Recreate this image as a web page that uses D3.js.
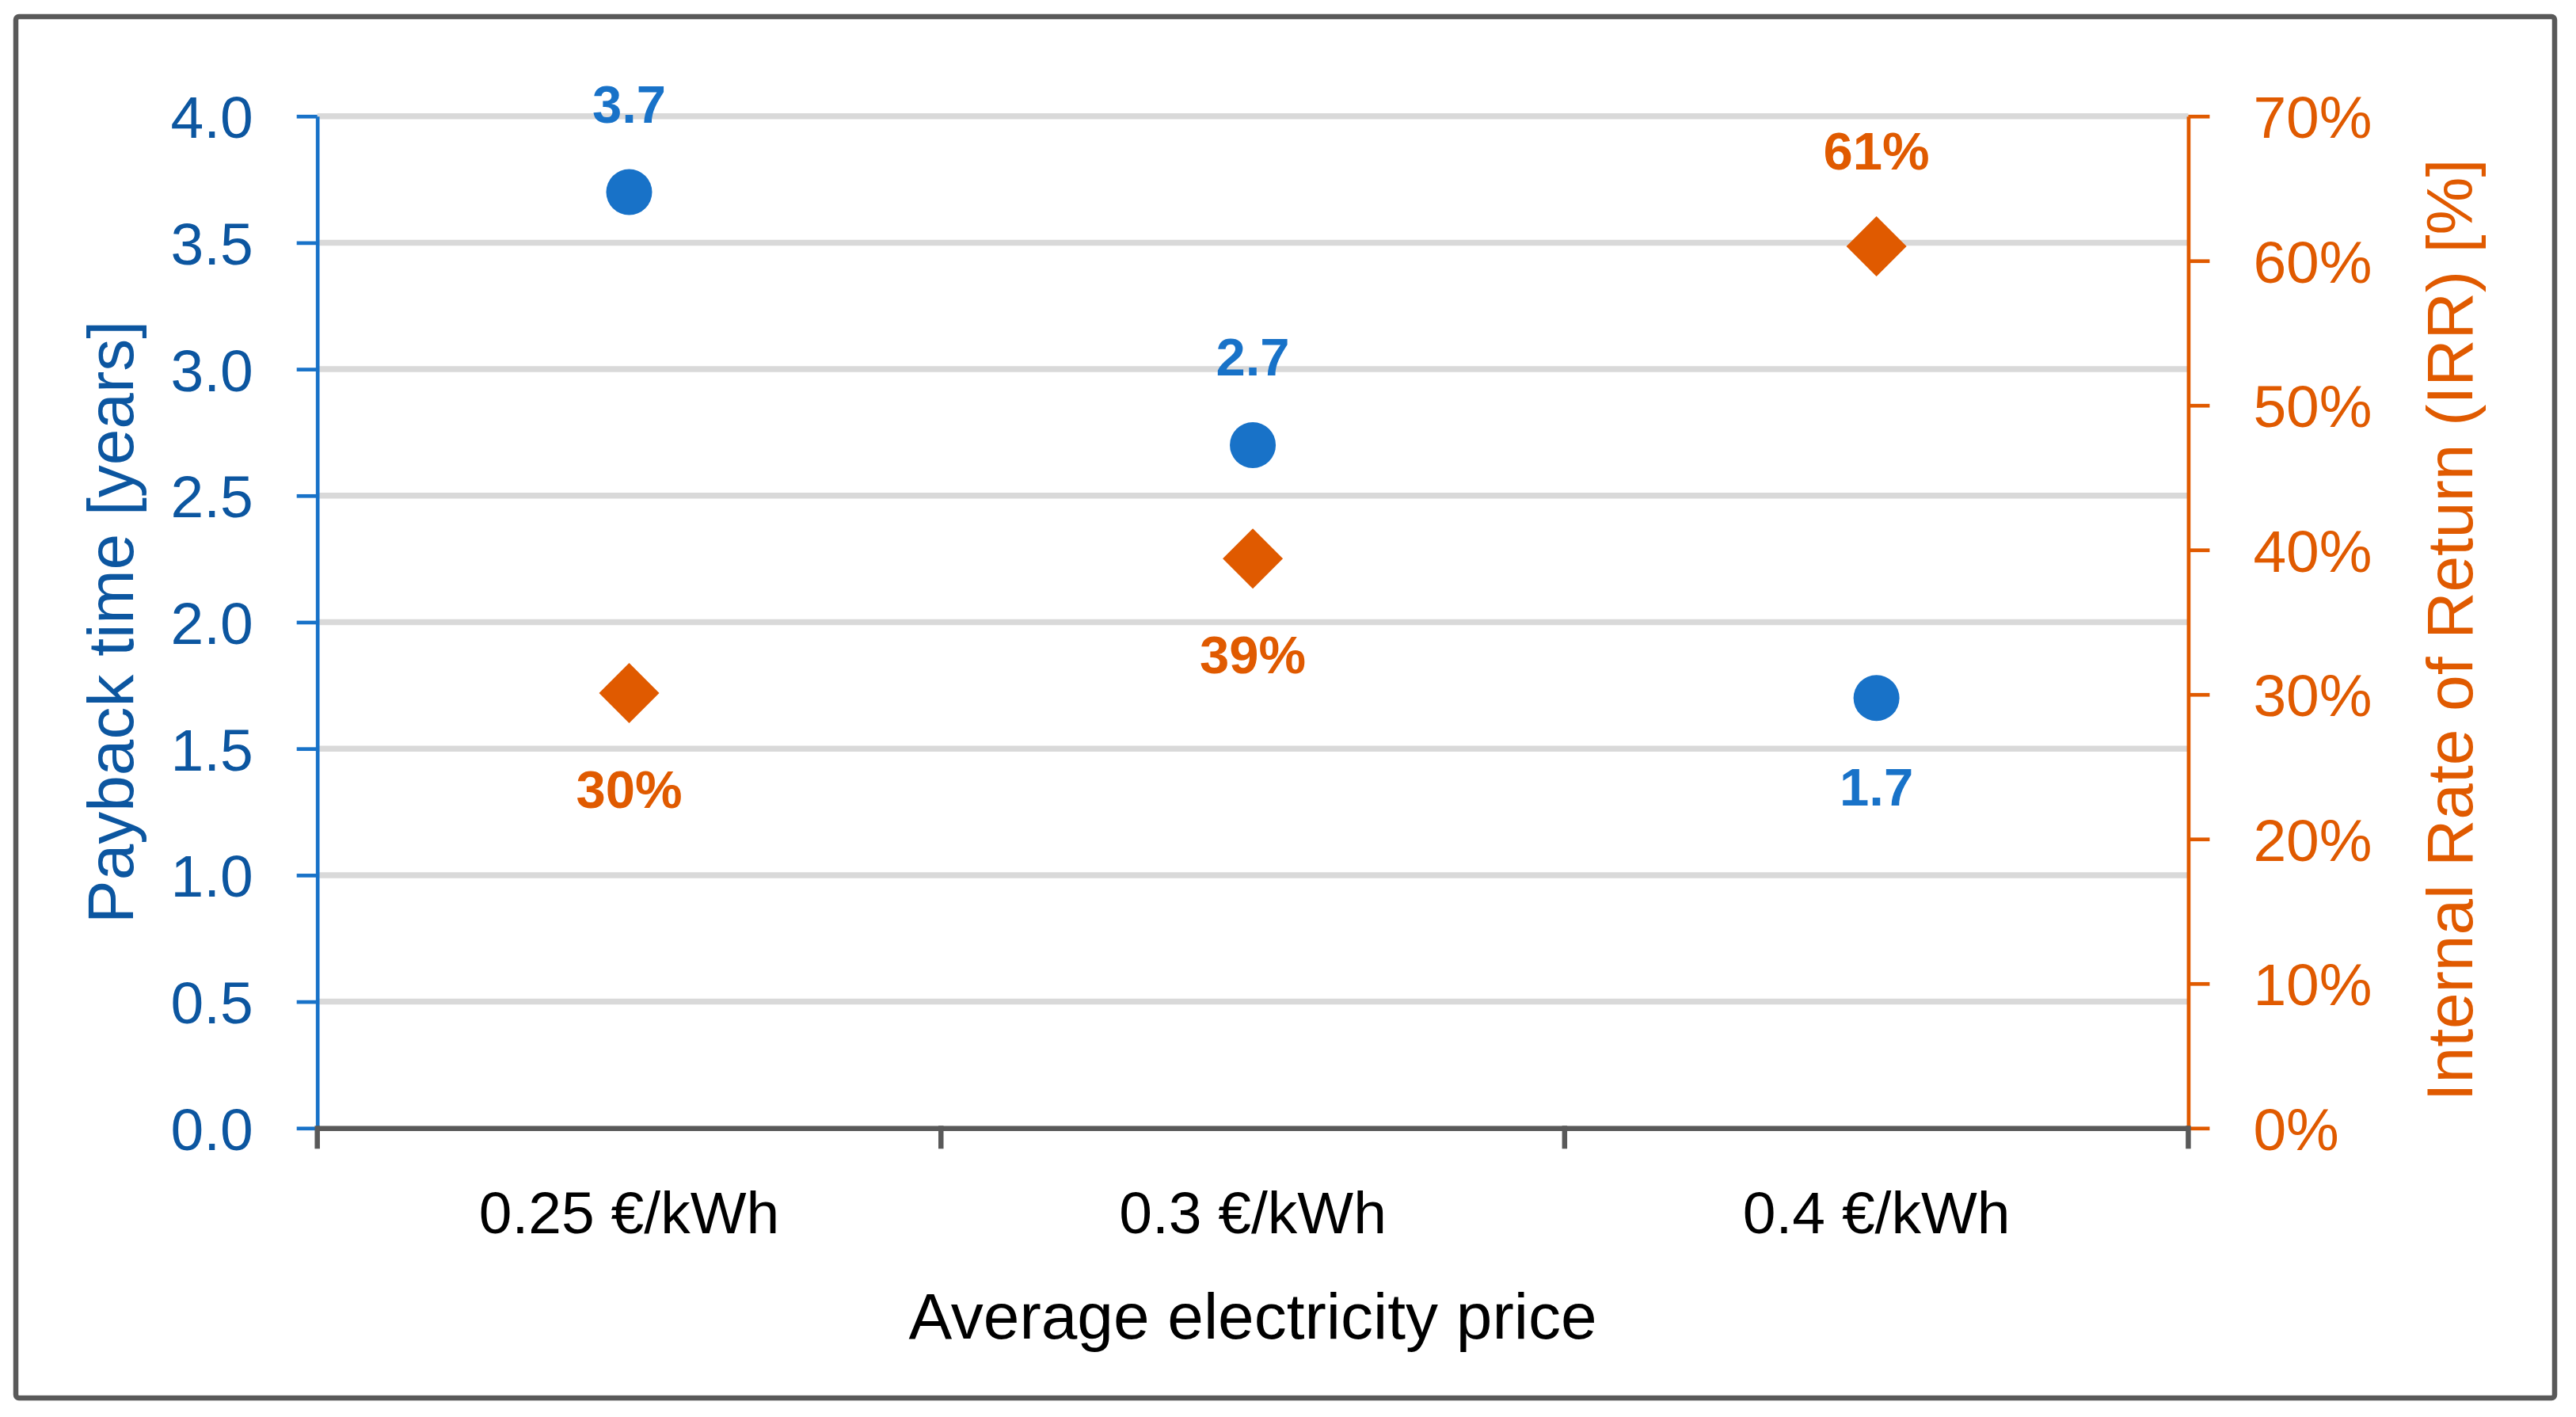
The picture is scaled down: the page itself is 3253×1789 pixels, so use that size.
<!DOCTYPE html>
<html>
<head>
<meta charset="utf-8">
<script src="https://cdn.jsdelivr.net/npm/d3@7/dist/d3.min.js"></script>
<style>
  body { margin: 0; background: #fff; }
  svg text { font-family: "Liberation Sans", Arial, sans-serif; }
</style>
</head>
<body>
<div id="chart"></div>
<script>
// data
var categories = ["0.25 €/kWh", "0.3 €/kWh", "0.4 €/kWh"];
var paybackYears = [3.7, 2.7, 1.7];      // left axis
var irrValues = [0.301, 0.394, 0.610];    // right axis
var leftTicks = [0, 0.5, 1, 1.5, 2, 2.5, 3, 3.5, 4];
var rightTicks = [0, 0.1, 0.2, 0.3, 0.4, 0.5, 0.6, 0.7];

var svgWidth = 3253, svgHeight = 1789;
var margin = { top: 146.7, right: 489.6, bottom: 364.7, left: 400.7 };
var width = svgWidth - margin.left - margin.right;
var height = svgHeight - margin.top - margin.bottom;

var blue = "#1872c8", blueDark = "#0c56a0", orange = "#e05a00", grey = "#595959";

var svg = d3.select("#chart").append("svg")
    .attr("width", svgWidth)
    .attr("height", svgHeight);

// outer frame
svg.append("rect")
    .attr("x", 20).attr("y", 21)
    .attr("width", 3206).attr("height", 1744)
    .attr("rx", 4)
    .attr("fill", "none")
    .attr("stroke", grey)
    .attr("stroke-width", 6.5);

var g = svg.append("g")
    .attr("transform", "translate(" + margin.left + "," + margin.top + ")");

var x = d3.scaleBand().domain(categories).range([0, width]).padding(0);
var yL = d3.scaleLinear().domain([0, 4]).range([height, 0]);
var yR = d3.scaleLinear().domain([0, 0.7]).range([height, 0]);

// gridlines
g.append("g").selectAll("line")
    .data(leftTicks.filter(function(d) { return d > 0; }))
    .enter().append("line")
    .attr("x1", 0).attr("x2", width)
    .attr("y1", function(d) { return yL(d); })
    .attr("y2", function(d) { return yL(d); })
    .attr("stroke", "#d9d9d9")
    .attr("stroke-width", 7.5);

// left axis
var axL = g.append("g")
    .call(d3.axisLeft(yL).tickValues(leftTicks).tickFormat(d3.format(".1f"))
        .tickSize(26).tickSizeOuter(0).tickPadding(55));
axL.select(".domain").attr("stroke", blue).attr("stroke-width", 4.7);
axL.selectAll(".tick line").attr("stroke", blue).attr("stroke-width", 4.7);
axL.selectAll(".tick text").attr("fill", blueDark).attr("font-size", 75).attr("dy", "0.36em");

// right axis
var axR = g.append("g")
    .attr("transform", "translate(" + width + ",0)")
    .call(d3.axisRight(yR).tickValues(rightTicks).tickFormat(d3.format(".0%"))
        .tickSize(27).tickSizeOuter(0).tickPadding(55));
axR.select(".domain").attr("stroke", orange).attr("stroke-width", 4.7);
axR.selectAll(".tick line").attr("stroke", orange).attr("stroke-width", 4.7);
axR.selectAll(".tick text").attr("fill", orange).attr("font-size", 75).attr("dy", "0.36em");

// bottom axis: labels at band centres, ticks at band edges
var axB = g.append("g")
    .attr("transform", "translate(0," + height + ")")
    .call(d3.axisBottom(x).tickSize(0).tickSizeOuter(0));
axB.select(".domain").attr("stroke", grey).attr("stroke-width", 6.5);
axB.selectAll(".tick text")
    .attr("fill", "#000")
    .attr("font-size", 75)
    .attr("y", 132.7)
    .attr("dy", 0);

var edges = categories.map(function(c) { return x(c); }).concat([width]);
axB.selectAll(".edge")
    .data(edges)
    .enter().append("line")
    .attr("class", "edge")
    .attr("x1", function(d) { return d; })
    .attr("x2", function(d) { return d; })
    .attr("y1", -3).attr("y2", 26)
    .attr("stroke", grey)
    .attr("stroke-width", 6.5);

// axis titles
svg.append("text")
    .attr("transform", "translate(168," + (margin.top + height / 2) + ") rotate(-90)")
    .attr("text-anchor", "middle")
    .attr("fill", blueDark)
    .attr("font-size", 82)
    .text("Payback time [years]");

svg.append("text")
    .attr("transform", "translate(3122," + (margin.top + height / 2 + 10) + ") rotate(-90)")
    .attr("text-anchor", "middle")
    .attr("fill", orange)
    .attr("font-size", 82)
    .text("Internal Rate of Return (IRR) [%]");

svg.append("text")
    .attr("x", margin.left + width / 2)
    .attr("y", 1690)
    .attr("text-anchor", "middle")
    .attr("fill", "#000")
    .attr("font-size", 82)
    .text("Average electricity price");

// points
var blueData = categories.map(function(c, i) {
    return { cat: c, py: yL(paybackYears[i]), other: yR(irrValues[i]), label: d3.format(".1f")(paybackYears[i]) };
});
var orangeData = categories.map(function(c, i) {
    return { cat: c, py: yR(irrValues[i]), other: yL(paybackYears[i]), label: d3.format(".0%")(irrValues[i]) };
});

g.selectAll(".dot")
    .data(blueData)
    .enter().append("circle")
    .attr("class", "dot")
    .attr("cx", function(d) { return x(d.cat) + x.bandwidth() / 2; })
    .attr("cy", function(d) { return d.py; })
    .attr("r", 29)
    .attr("fill", blue);

var diamond = d3.symbol().type(d3.symbolSquare).size(2888);
g.selectAll(".diamond")
    .data(orangeData)
    .enter().append("path")
    .attr("class", "diamond")
    .attr("d", diamond)
    .attr("transform", function(d) {
        return "translate(" + (x(d.cat) + x.bandwidth() / 2) + "," + d.py + ") rotate(45)";
    })
    .attr("fill", orange);

// data labels: the upper marker gets its label above, the lower one below
function addLabels(data, color, offset) {
    g.selectAll(null)
        .data(data)
        .enter().append("text")
        .attr("x", function(d) { return x(d.cat) + x.bandwidth() / 2; })
        .attr("y", function(d) { return d.py < d.other ? d.py - offset : d.py + offset; })
        .attr("dy", "0.36em")
        .attr("text-anchor", "middle")
        .attr("font-size", 67)
        .attr("font-weight", "bold")
        .attr("fill", color)
        .text(function(d) { return d.label; });
}
addLabels(blueData, blue, 112);
addLabels(orangeData, orange, 121);
</script>
</body>
</html>
